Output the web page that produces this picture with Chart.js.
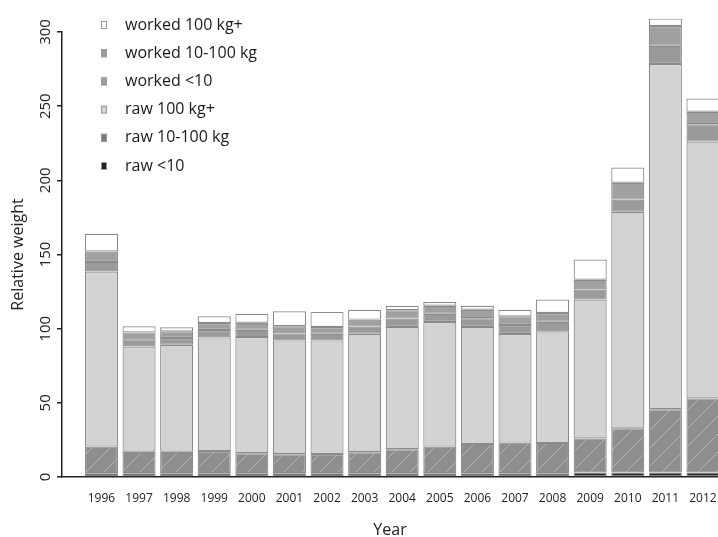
<!DOCTYPE html>
<html>
<head>
<meta charset="utf-8">
<script src="https://cdn.jsdelivr.net/npm/chart.js@4.4.1/dist/chart.umd.min.js"></script>
<style>
  html, body { margin: 0; padding: 0; background: #fff; overflow: hidden; }
</style>
</head>
<body>
<canvas id="chart" width="718" height="537"></canvas>
<script>
// data (stack order bottom -> top)
const years = [1996, 1997, 1998, 1999, 2000, 2001, 2002, 2003, 2004, 2005, 2006, 2007, 2008, 2009, 2010, 2011, 2012];
const rawSmall    = [2.5, 2.5, 2.5, 2.5, 2.5, 2.5, 2.5, 2.5, 2.5, 2.5, 2.5, 2.5, 2.5, 3, 3, 3, 3];
const rawMid      = [18, 14.5, 14.5, 15, 13.5, 12.8, 13, 14.2, 16.2, 18, 19.8, 20.7, 20.5, 23, 29.8, 42.7, 50];
const rawLarge    = [118, 71, 72.2, 76.6, 78.3, 76.8, 76.6, 79.9, 82.4, 84, 78.8, 73.2, 75.2, 93.6, 146, 232.7, 173.1];
const workedSmall = [6.5, 4.8, 4.5, 5, 4.9, 4.7, 4.5, 4.8, 5.7, 5.6, 5.9, 6.1, 6.5, 6.8, 8.2, 12.3, 11.7];
const workedMid   = [7, 4.7, 4.5, 4.7, 4.8, 4.8, 4.5, 4.7, 5.6, 5.4, 5.8, 5.8, 5.9, 6.6, 11.4, 13.3, 8.4];
const workedLarge = [12, 4.1, 2.7, 4.5, 6, 10.1, 10.2, 6.7, 3.1, 2.5, 2.7, 4.5, 9, 13.6, 10.2, 5, 9];
const yTicks = [0, 50, 100, 150, 200, 250, 300];

const FONT = '"Open Sans", "DejaVu Sans", sans-serif';
const ctx = document.getElementById('chart').getContext('2d');

// faint diagonal hatching for the raw 10-100 kg layer
function hatch(base) {
  const c = document.createElement('canvas');
  c.width = 18; c.height = 18;
  const g = c.getContext('2d');
  g.fillStyle = base;
  g.fillRect(0, 0, 18, 18);
  g.strokeStyle = 'rgba(255,255,255,0.35)';
  g.lineWidth = 1;
  g.beginPath();
  g.moveTo(0, 18); g.lineTo(18, 0);
  g.stroke();
  return ctx.createPattern(c, 'repeat');
}

function series(label, values, fill, legendColor) {
  return {
    label: label,
    data: years.map((y, i) => ({ x: y, y: values[i] })),
    backgroundColor: fill,
    legendColor: legendColor,
    borderColor: '#8a8a8a',
    borderWidth: 1.2,
    borderSkipped: false,
    stack: 'all',
    clip: false,
    categoryPercentage: 1,
    barPercentage: 0.88
  };
}

// legend sits inside the plot, top left
const insideLegend = {
  id: 'insideLegend',
  afterDraw(chart) {
    const c = chart.ctx;
    const items = chart.data.datasets.slice().reverse();
    c.save();
    c.font = '16px ' + FONT;
    c.textBaseline = 'middle';
    items.forEach((d, i) => {
      const y = 25 + i * 28.2;
      c.fillStyle = d.legendColor;
      c.fillRect(101, y - 4, 6, 8);
      c.strokeStyle = '#9a9a9a';
      c.lineWidth = 1;
      c.strokeRect(101.5, y - 3.5, 5, 7);
      c.fillStyle = '#1a1a1a';
      c.fillText(d.label, 125, y);
    });
    c.restore();
  }
};

new Chart(ctx, {
  type: 'bar',
  data: {
    datasets: [
      series('raw <10', rawSmall, '#1e1e1e', '#1e1e1e'),
      series('raw 10-100 kg', rawMid, hatch('#8e8e8e'), '#7a7a7a'),
      series('raw 100 kg+', rawLarge, '#d3d3d3', '#d3d3d3'),
      series('worked <10', workedSmall, '#9a9a9a', '#a0a0a0'),
      series('worked 10-100 kg', workedMid, '#a0a0a0', '#9a9a9a'),
      series('worked 100 kg+', workedLarge, '#ffffff', '#ffffff')
    ]
  },
  options: {
    responsive: false,
    animation: false,
    devicePixelRatio: 1,
    layout: { padding: { top: 32, right: 0, left: 0, bottom: 0 } },
    plugins: {
      legend: { display: false },
      tooltip: { enabled: false }
    },
    scales: {
      x: {
        type: 'linear',
        offset: false,
        min: 1994.95,
        max: 2012.4,
        afterBuildTicks(scale) { scale.ticks = years.map(v => ({ value: v })); },
        grid: { display: false },
        border: { display: true, color: '#222', width: 1.5 },
        ticks: {
          padding: 6,
          color: '#222',
          font: { family: FONT, size: 12 },
          callback: v => String(v)
        },
        title: {
          display: true,
          text: 'Year',
          color: '#222',
          font: { family: FONT, size: 16 },
          padding: { top: 0, bottom: -3 }
        },
        afterFit(scale) {
          scale.height = 60;
          scale.paddingLeft = 0;
          scale.paddingRight = 0;
        }
      },
      y: {
        stacked: true,
        min: 0,
        max: 300,
        afterBuildTicks(scale) { scale.ticks = yTicks.map(v => ({ value: v })); },
        grid: { display: true, drawOnChartArea: false, drawTicks: true, tickLength: 5, color: '#222', lineWidth: 1.5 },
        border: { display: true, color: '#222', width: 1.5 },
        ticks: {
          minRotation: 90,
          maxRotation: 90,
          crossAlign: 'center',
          padding: -2,
          color: '#222',
          font: { family: FONT, size: 15 }
        },
        title: {
          display: true,
          text: 'Relative weight',
          color: '#222',
          font: { family: FONT, size: 16 },
          padding: { top: 9, bottom: 0 }
        },
        afterFit(scale) { scale.width = 62; }
      }
    }
  },
  plugins: [insideLegend]
});
</script>
</body>
</html>
